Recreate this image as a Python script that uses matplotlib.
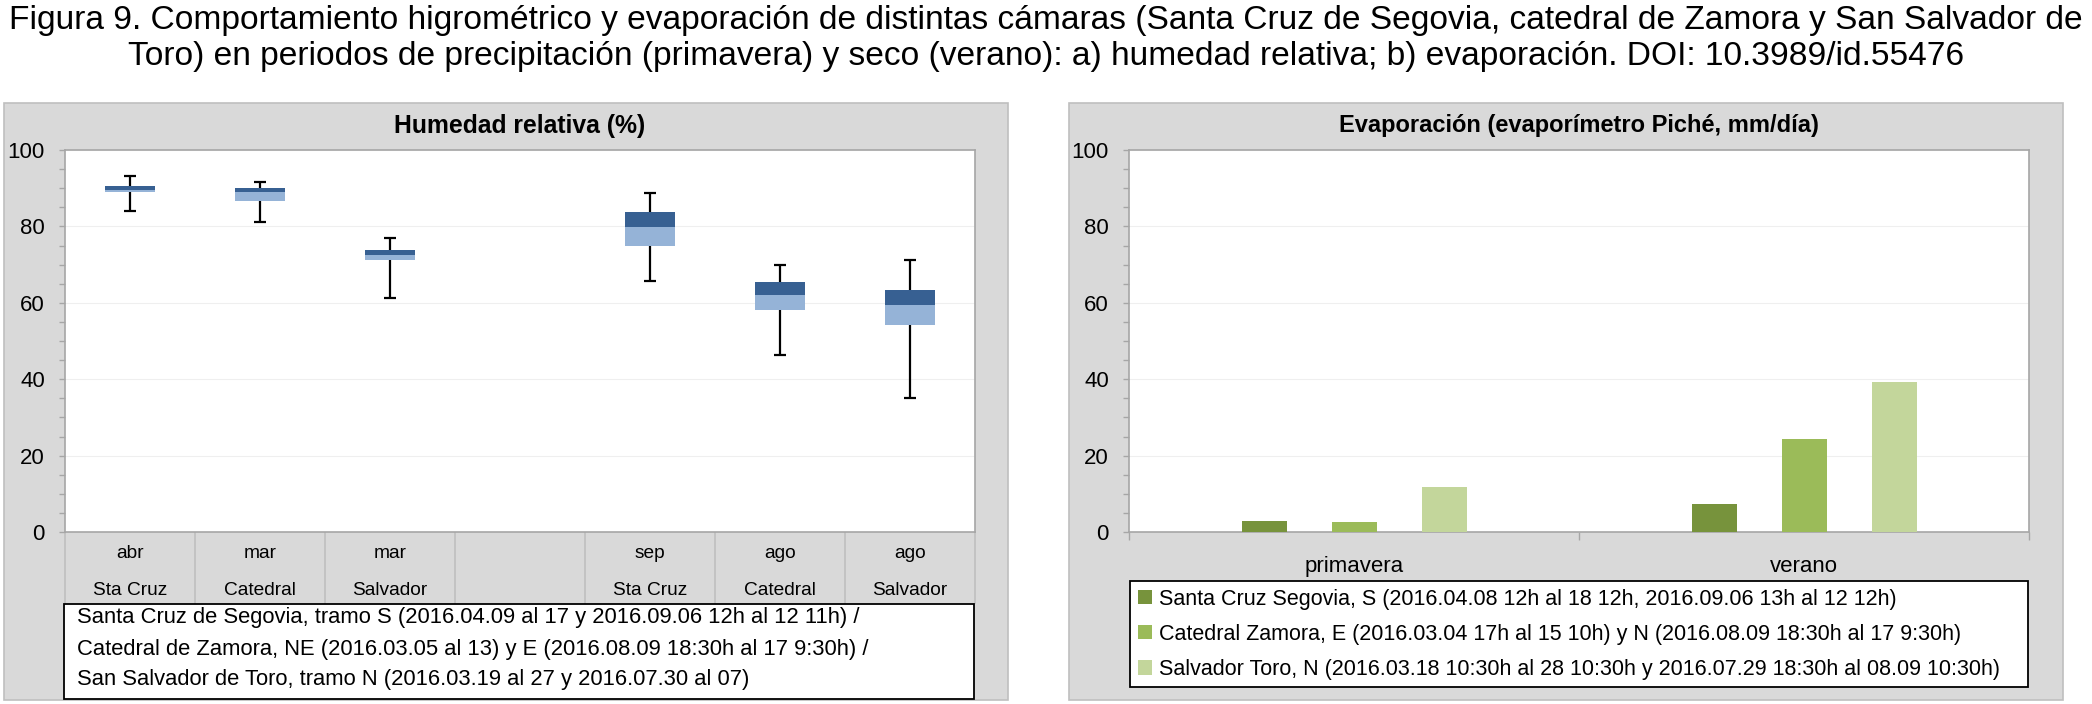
import matplotlib
matplotlib.use("Agg")
import matplotlib.pyplot as plt
import numpy as np
from matplotlib.patches import Rectangle
from matplotlib.ticker import MultipleLocator

plt.rcParams["font.family"] = ["Liberation Sans", "DejaVu Sans"]

W, H = 2092, 704

title_lines = [
    "Figura 9. Comportamiento higrométrico y evaporación de distintas cámaras (Santa Cruz de Segovia, catedral de Zamora y San Salvador de",
    "Toro) en periodos de precipitación (primavera) y seco (verano): a) humedad relativa; b) evaporación. DOI: 10.3989/id.55476",
]

# a) humedad relativa (box = Q1..median..Q3, whiskers min..max)
hr_months = ["abr", "mar", "mar", "", "sep", "ago", "ago"]
hr_sites = ["Sta Cruz", "Catedral", "Salvador", "", "Sta Cruz", "Catedral", "Salvador"]
hr_max = np.array([93.2, 91.6, 77.0, np.nan, 88.7, 70.0, 71.1])
hr_q3 = np.array([90.7, 90.0, 73.8, np.nan, 83.9, 65.5, 63.4])
hr_med = np.array([89.4, 88.9, 72.5, np.nan, 79.8, 62.1, 59.3])
hr_q1 = np.array([88.9, 86.6, 71.1, np.nan, 74.9, 58.1, 54.3])
hr_min = np.array([84.1, 81.2, 61.3, np.nan, 65.8, 46.3, 35.2])
hr_notes = [
    "Santa Cruz de Segovia, tramo S (2016.04.09 al 17 y 2016.09.06 12h al 12 11h) /",
    "Catedral de Zamora, NE (2016.03.05 al 13) y E (2016.08.09 18:30h al 17 9:30h) /",
    "San Salvador de Toro, tramo N (2016.03.19 al 27 y 2016.07.30 al 07)",
]

# b) evaporacion
seasons = ["primavera", "verano"]
evap_labels = [
    "Santa Cruz Segovia, S (2016.04.08 12h al 18 12h, 2016.09.06 13h al 12 12h)",
    "Catedral Zamora, E (2016.03.04 17h al 15 10h) y N (2016.08.09 18:30h al 17 9:30h)",
    "Salvador Toro, N (2016.03.18 10:30h al 28 10:30h y 2016.07.29 18:30h al 08.09 10:30h)",
]
evap_santa_cruz = [2.8, 7.4]
evap_catedral = [2.5, 24.4]
evap_salvador = [11.9, 39.2]

panel_bg = "#d9d9d9"
axis_gray = "#a6a6a6"


def frac(x0, y0, x1, y1):
    return [x0 / W, 1 - y1 / H, (x1 - x0) / W, (y1 - y0) / H]


def add_rect(x0, y0, x1, y1, **kw):
    r = frac(x0, y0, x1, y1)
    fig.add_artist(Rectangle((r[0], r[1]), r[2], r[3], transform=fig.transFigure, **kw))


def style_value_axis(ax):
    ax.set_ylim(0, 100)
    ax.yaxis.set_major_locator(MultipleLocator(20))
    ax.yaxis.set_minor_locator(MultipleLocator(5))
    ax.tick_params(axis="y", which="both", direction="out", length=4.5, width=1,
                   color=axis_gray, labelsize=16, pad=10)
    ax.yaxis.grid(True, color="#efefef", linewidth=0.8)
    ax.set_axisbelow(True)
    for sp in ax.spines.values():
        sp.set_color(axis_gray)
        sp.set_linewidth(1.2)


fig = plt.figure(figsize=(W / 100, H / 100), dpi=100)

for i, line in enumerate(title_lines):
    fig.text(0.5, 1 - (21 + 35 * i) / H, line, ha="center", va="center", fontsize=24.1)

add_rect(4, 103, 1008, 700, facecolor=panel_bg, edgecolor="#bfbfbf", linewidth=1.2, zorder=-2)
add_rect(1069, 103, 2063, 700, facecolor=panel_bg, edgecolor="#bfbfbf", linewidth=1.2, zorder=-2)

# ---- left: humedad relativa
axL = fig.add_axes(frac(65, 150, 975, 532))
x = np.arange(len(hr_months))
axL.bar(x, hr_med - hr_q1, bottom=hr_q1, width=0.39, color="#95b3d7", zorder=3)
axL.bar(x, hr_q3 - hr_med, bottom=hr_med, width=0.39, color="#376092", zorder=3)
axL.errorbar(x, hr_med, yerr=[hr_med - hr_min, hr_max - hr_med], fmt="none",
             ecolor="black", elinewidth=1.6, capsize=4, capthick=1.6, zorder=2)
axL.set_xlim(-0.5, len(hr_months) - 0.5)
style_value_axis(axL)
axL.set_xticks([])
axL.set_xticks(np.arange(-0.5, len(hr_months)), minor=True)
axL.tick_params(axis="x", which="minor", direction="out", length=52, width=1.2,
                color="#bfbfbf", labelbottom=False)
for i, (m, s) in enumerate(zip(hr_months, hr_sites)):
    axL.text(i, -0.055, m, transform=axL.get_xaxis_transform(), ha="center", va="center", fontsize=13.8)
    axL.text(i, -0.152, s, transform=axL.get_xaxis_transform(), ha="center", va="center", fontsize=13.8)
axL.text(0.5, 1.063, "Humedad relativa (%)", transform=axL.transAxes, ha="center", va="center",
         fontsize=17.8, fontweight="bold")

add_rect(64, 604, 974, 699, facecolor="white", edgecolor="black", linewidth=1.3, zorder=5)
for yc, note in zip([618, 649, 680], hr_notes):
    fig.text(77 / W, 1 - yc / H, note, ha="left", va="center", fontsize=15.8, zorder=6)

# ---- right: evaporacion
axR = fig.add_axes(frac(1129, 150, 2029, 532))
xs = np.arange(len(seasons))
series = [evap_santa_cruz, evap_catedral, evap_salvador]
colors = ["#77933c", "#9bbb59", "#c3d69b"]
for k, (vals, col, lab) in enumerate(zip(series, colors, evap_labels)):
    axR.bar(xs + (k - 1) * 0.2, vals, width=0.1, color=col, label=lab, zorder=3)
axR.set_xlim(-0.5, len(seasons) - 0.5)
style_value_axis(axR)
axR.set_xticks(xs)
axR.set_xticklabels(seasons)
axR.tick_params(axis="x", which="major", length=0, labelsize=16, pad=17)
axR.set_xticks(np.arange(-0.5, len(seasons)), minor=True)
axR.tick_params(axis="x", which="minor", direction="out", length=6, width=1, color=axis_gray)
axR.text(0.5, 1.063, "Evaporación (evaporímetro Piché, mm/día)", transform=axR.transAxes,
         ha="center", va="center", fontsize=17, fontweight="bold")

leg_box = frac(1130, 581, 2028, 699)
leg = axR.legend(loc="upper left", bbox_to_anchor=leg_box, bbox_transform=fig.transFigure,
                 mode="expand", ncol=1, frameon=True, fancybox=False, edgecolor="black",
                 framealpha=1, fontsize=15.5, handlelength=0.65, handleheight=0.65,
                 handletextpad=0.35, borderaxespad=0, labelspacing=0.66, borderpad=0.35)
leg.get_frame().set_linewidth(1.3)

fig.savefig("out.png", dpi=100)
